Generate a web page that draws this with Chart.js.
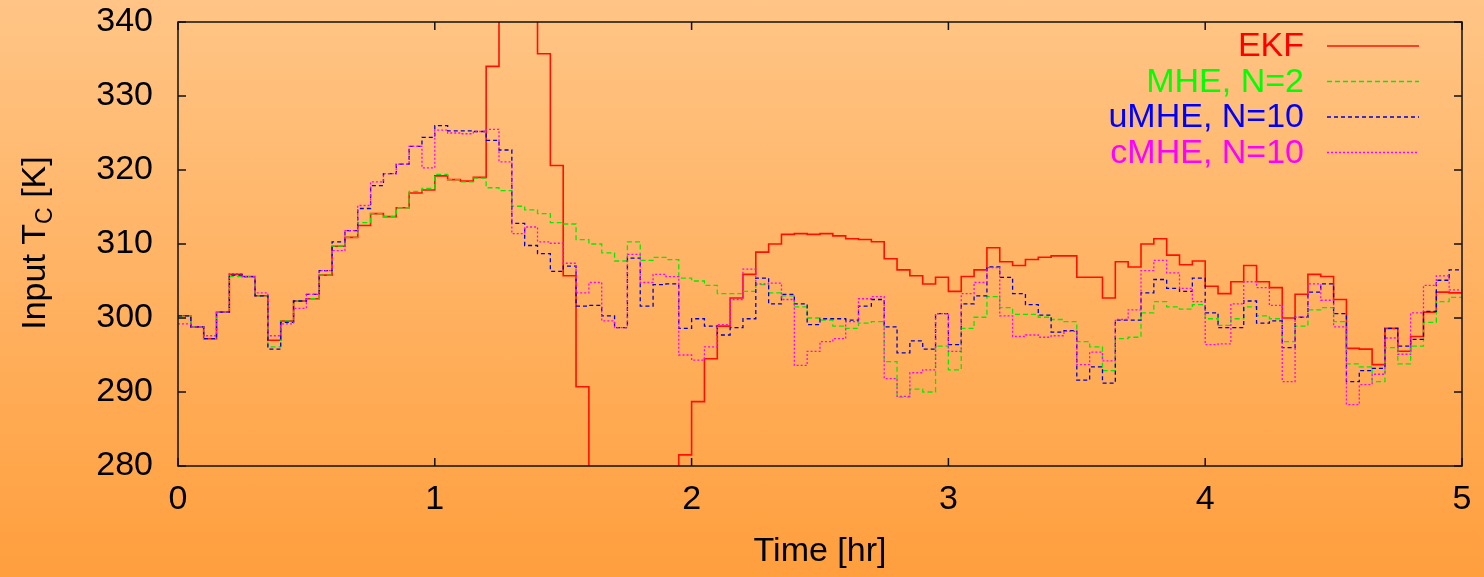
<!DOCTYPE html>
<html lang="en">
<head>
<meta charset="UTF-8">
<title>Input T_C</title>
<script src="https://cdn.jsdelivr.net/npm/chart.js"></script>
<style>
  html, body { margin: 0; padding: 0; }
  body { width: 1484px; height: 577px; overflow: hidden;
         background: linear-gradient(to bottom, #ffc586 0%, #ff9f3e 100%); }
  canvas { display: block; }
</style>
</head>
<body>
<canvas id="tcChart" width="1484" height="577"></canvas>
<script>
// one value per 0.05 hr sample, held until the next sample
const dt = 0.05;
const xTicks = [0, 1, 2, 3, 4, 5];
const yTicks = [280, 290, 300, 310, 320, 330, 340];

const ekf = [
  300.3, 298.8, 297.2, 300.8, 305.9, 305.6, 303.0, 297.0, 299.6, 302.3,
  302.6, 305.8, 309.7, 310.9, 312.5, 314.1, 313.7, 314.9, 316.9, 317.3,
  319.2, 318.7, 318.5, 319.0, 334.0, 346.0, 352.0, 348.0, 335.7, 320.6,
  305.7, 290.7, 272.0, 262.0, 258.0, 260.0, 265.0, 270.0, 277.0, 281.5,
  288.7, 294.5, 298.9, 302.7, 305.9, 308.9, 310.0, 311.3, 311.4, 311.3,
  311.4, 311.1, 310.7, 310.6, 310.3, 308.0, 306.5, 305.7, 304.6, 305.5,
  303.6, 305.6, 306.5, 309.5, 307.6, 307.1, 307.9, 308.2, 308.4, 308.4,
  305.5, 305.5, 302.7, 307.6, 306.9, 310.0, 310.7, 308.5, 307.2, 307.7,
  304.3, 303.3, 304.9, 307.1, 304.9, 304.1, 300.0, 303.2, 305.9, 305.6,
  302.5, 295.9, 295.8, 293.7, 298.6, 295.5, 297.5, 300.8, 303.5, 303.4
];
const mhe2 = [
  300.3, 298.8, 297.2, 300.8, 305.6, 305.6, 303.0, 296.1, 299.6, 302.3,
  302.6, 305.8, 309.7, 310.9, 312.9, 314.1, 313.7, 314.9, 317.1, 317.5,
  319.4, 318.7, 318.4, 318.9, 317.6, 317.2, 315.1, 314.6, 314.1, 312.9,
  312.7, 310.6, 310.0, 308.8, 307.7, 310.3, 307.8, 308.2, 307.9, 305.4,
  305.0, 304.4, 303.3, 303.3, 303.6, 304.5, 303.4, 303.0, 301.5, 300.0,
  299.7, 298.9, 298.6, 299.3, 299.5, 294.1, 289.3, 290.4, 290.0, 296.2,
  293.0, 298.6, 300.1, 302.9, 301.4, 300.5, 300.5, 300.1, 299.8, 299.5,
  296.8, 296.1, 292.9, 297.2, 297.4, 300.7, 302.2, 301.5, 301.2, 301.8,
  299.9, 299.0, 299.9, 301.5, 300.3, 299.9, 296.8, 298.9, 301.1, 301.4,
  299.5, 293.8, 293.4, 291.4, 296.0, 293.8, 296.2, 299.4, 302.2, 302.8
];
const umhe10 = [
  300.3, 298.8, 297.2, 300.8, 305.8, 305.6, 303.0, 295.8, 299.4, 302.3,
  303.2, 306.4, 310.3, 311.8, 314.8, 317.9, 319.5, 320.8, 323.2, 324.4,
  326.0, 325.3, 325.3, 325.2, 324.0, 322.7, 312.8, 309.8, 308.7, 306.3,
  307.0, 301.6, 301.7, 300.3, 298.7, 308.1, 301.6, 304.5, 304.6, 298.6,
  299.9, 298.9, 297.7, 298.7, 299.9, 305.4, 301.9, 303.2, 301.9, 299.1,
  299.9, 299.9, 299.7, 301.6, 302.5, 298.8, 295.3, 296.9, 295.8, 300.6,
  296.4, 301.9, 303.0, 306.9, 305.5, 303.3, 301.8, 300.4, 298.1, 298.3,
  291.6, 293.4, 291.2, 299.7, 299.7, 303.4, 305.2, 304.0, 303.6, 305.4,
  300.7, 298.7, 298.7, 302.3, 299.3, 299.6, 296.0, 300.1, 303.5, 304.6,
  300.6, 291.4, 292.9, 293.2, 298.6, 296.2, 297.1, 300.9, 305.1, 306.5
];
const cmhe10 = [
  299.2, 298.8, 297.6, 300.8, 306.0, 305.6, 303.4, 297.6, 299.2, 301.3,
  303.2, 306.4, 309.1, 311.8, 315.2, 318.4, 319.5, 320.8, 323.2, 320.3,
  325.4, 325.0, 324.9, 325.2, 325.5, 321.1, 311.4, 312.3, 310.3, 310.1,
  307.4, 303.4, 304.8, 299.6, 298.7, 308.6, 304.8, 305.9, 305.6, 295.0,
  294.3, 296.1, 299.1, 302.5, 306.6, 304.6, 304.7, 302.5, 293.6, 295.5,
  296.8, 297.2, 299.5, 302.6, 302.9, 291.8, 289.4, 292.6, 293.0, 300.6,
  295.5, 303.3, 304.8, 306.8, 300.3, 297.5, 297.7, 297.4, 297.6, 298.2,
  293.7, 295.4, 294.2, 299.8, 301.1, 306.4, 307.8, 306.1, 304.0, 302.2,
  296.4, 296.5, 301.9, 304.9, 304.1, 301.7, 291.4, 300.1, 304.6, 302.4,
  298.8, 288.3, 291.0, 292.4, 297.3, 295.1, 300.7, 304.4, 305.7, 303.8
];

// step series: each value holds for dt, last one held to the end
function steps(vals) {
  const pts = vals.map((v, k) => ({ x: k * dt, y: v }));
  pts.push({ x: vals.length * dt, y: vals[vals.length - 1] });
  return pts;
}

const FONT = '"Liberation Sans", Arial, Helvetica, sans-serif';
Chart.defaults.font.family = FONT;
Chart.defaults.color = '#000';

// gnuplot-style box with inward ticks on all four sides
const framePlugin = {
  id: 'frame',
  afterDatasetsDraw(chart) {
    const { ctx, chartArea: a, scales: { x, y } } = chart;
    ctx.save();
    ctx.strokeStyle = '#111';
    ctx.lineWidth = 1.5;
    ctx.strokeRect(a.left, a.top, a.right - a.left, a.bottom - a.top);
    ctx.beginPath();
    xTicks.forEach(t => {
      const px = x.getPixelForValue(t);
      ctx.moveTo(px, a.bottom); ctx.lineTo(px, a.bottom - 8);
      ctx.moveTo(px, a.top); ctx.lineTo(px, a.top + 8);
    });
    yTicks.forEach(t => {
      const py = y.getPixelForValue(t);
      ctx.moveTo(a.left, py); ctx.lineTo(a.left + 8, py);
      ctx.moveTo(a.right, py); ctx.lineTo(a.right - 8, py);
    });
    ctx.stroke();
    ctx.restore();
  }
};

// key in the top right corner, text right-aligned, sample line after it
const keyPlugin = {
  id: 'key',
  afterDraw(chart) {
    const ctx = chart.ctx;
    ctx.save();
    ctx.font = '34px ' + FONT;
    ctx.textAlign = 'right';
    ctx.textBaseline = 'middle';
    chart.data.datasets.forEach((ds, i) => {
      const yy = 46 + i * 35.5;
      ctx.fillStyle = ds.keyColor;
      ctx.fillText(ds.label, 1304, yy + 1);
      ctx.strokeStyle = ds.borderColor;
      ctx.lineWidth = ds.borderWidth;
      ctx.setLineDash(ds.borderDash || []);
      ctx.beginPath();
      ctx.moveTo(1327, yy);
      ctx.lineTo(1419, yy);
      ctx.stroke();
    });
    ctx.restore();
  }
};

// y title with a subscript C
const yTitlePlugin = {
  id: 'ytitle',
  afterDraw(chart) {
    const ctx = chart.ctx;
    const big = '34px ' + FONT, small = '23px ' + FONT;
    const p1 = 'Input T', p2 = 'C', p3 = ' [K]';
    ctx.save();
    ctx.translate(33, 243);
    ctx.rotate(-Math.PI / 2);
    ctx.fillStyle = '#000';
    ctx.textBaseline = 'alphabetic';
    ctx.font = big;
    const w1 = ctx.measureText(p1).width, w3 = ctx.measureText(p3).width;
    ctx.font = small;
    const w2 = ctx.measureText(p2).width;
    let xx = -(w1 + w2 + w3) / 2;
    ctx.font = big; ctx.fillText(p1, xx, 12); xx += w1;
    ctx.font = small; ctx.fillText(p2, xx, 19); xx += w2;
    ctx.font = big; ctx.fillText(p3, xx, 12);
    ctx.restore();
  }
};

new Chart(document.getElementById('tcChart'), {
  type: 'line',
  data: {
    datasets: [
      { label: 'EKF', data: steps(ekf), borderColor: '#ff1000', keyColor: '#ff0000',
        borderWidth: 1.6, order: 4 },
      { label: 'MHE, N=2', data: steps(mhe2), borderColor: '#00ee00', keyColor: '#00ff00',
        borderWidth: 1.3, borderDash: [5, 3], order: 3 },
      { label: 'uMHE, N=10', data: steps(umhe10), borderColor: '#0000d0', keyColor: '#0000ff',
        borderWidth: 1.3, borderDash: [4, 3], order: 2 },
      { label: 'cMHE, N=10', data: steps(cmhe10), borderColor: '#ff00ff', keyColor: '#ff00ff',
        borderWidth: 1.3, borderDash: [2, 2], order: 1 }
    ].map(ds => Object.assign({ stepped: true, pointRadius: 0, fill: false, tension: 0 }, ds))
  },
  options: {
    responsive: false,
    animation: false,
    events: [],
    layout: { padding: { left: 0, right: 22, top: 22, bottom: 0 } },
    plugins: { legend: { display: false }, tooltip: { enabled: false } },
    scales: {
      x: {
        type: 'linear', min: 0, max: 5,
        afterFit: s => { s.height = 111; s.paddingLeft = 0; s.paddingRight = 0; },
        afterBuildTicks: s => { s.ticks = xTicks.map(v => ({ value: v })); },
        grid: { display: false }, border: { display: false },
        ticks: { font: { size: 34 }, padding: 5, maxRotation: 0 },
        title: { display: true, text: 'Time [hr]', font: { size: 34 }, padding: { top: 0, bottom: 5 } }
      },
      y: {
        min: 280, max: 340,
        afterFit: s => { s.width = 178; s.paddingTop = 0; s.paddingBottom = 0; },
        afterBuildTicks: s => { s.ticks = yTicks.map(v => ({ value: v })); },
        grid: { display: false }, border: { display: false },
        ticks: { font: { size: 34 }, padding: 17 }
      }
    }
  },
  plugins: [framePlugin, keyPlugin, yTitlePlugin]
});
</script>
</body>
</html>
